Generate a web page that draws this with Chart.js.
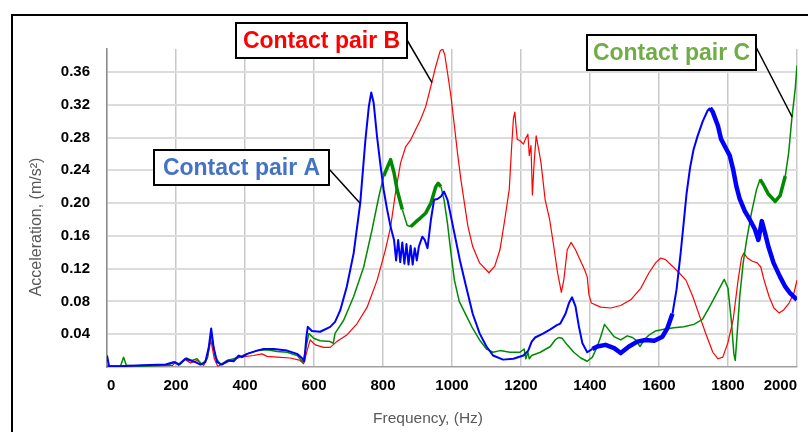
<!DOCTYPE html>
<html>
<head>
<meta charset="utf-8">
<script src="https://cdn.jsdelivr.net/npm/chart.js@4.4.1/dist/chart.umd.min.js"></script>
<style>
  html, body { margin: 0; padding: 0; background: #fff; }
  #wrap { position: relative; width: 808px; height: 432px; }
</style>
</head>
<body>
<div id="wrap"><canvas id="accChart"></canvas></div>
<script>
// values: frequency (Hz) and acceleration (m/s^2)
const freqA = [0, 6, 40, 100, 170, 195, 208, 227, 242, 256, 271, 285, 295, 302, 309, 319, 333, 353, 367, 382, 391, 406, 435, 454, 483, 522, 551, 565, 572, 578, 582, 594, 618, 647, 661, 676, 695, 715, 734, 749, 759, 766, 773, 783, 793, 802, 812, 822, 832, 838, 844, 850, 856, 862, 868, 874, 880, 886, 892, 898, 904, 914, 921, 929, 939, 948, 958, 968, 977, 987, 1007, 1023, 1041, 1060, 1080, 1100, 1119, 1148, 1178, 1207, 1221, 1231, 1241, 1265, 1285, 1304, 1314, 1329, 1339, 1348, 1358, 1368, 1378, 1392, 1407, 1421, 1445, 1470, 1489, 1513, 1537, 1561, 1586, 1610, 1624, 1639, 1651, 1663, 1672, 1680, 1690, 1700, 1712, 1727, 1741, 1748, 1756, 1771, 1780, 1795, 1805, 1815, 1824, 1834, 1849, 1863, 1878, 1888, 1898, 1907, 1917, 1932, 1951, 1966, 1980, 1995, 2000];
const accA = [0.014, 0.001, 0.001, 0.002, 0.003, 0.006, 0.003, 0.010, 0.008, 0.006, 0.003, 0.006, 0.024, 0.047, 0.024, 0.006, 0.003, 0.008, 0.007, 0.014, 0.012, 0.016, 0.020, 0.022, 0.022, 0.020, 0.016, 0.011, 0.007, 0.037, 0.049, 0.044, 0.043, 0.049, 0.055, 0.069, 0.098, 0.139, 0.200, 0.277, 0.318, 0.335, 0.322, 0.280, 0.245, 0.216, 0.192, 0.171, 0.155, 0.130, 0.155, 0.128, 0.152, 0.126, 0.150, 0.125, 0.148, 0.125, 0.145, 0.130, 0.147, 0.159, 0.155, 0.145, 0.180, 0.204, 0.205, 0.208, 0.214, 0.204, 0.163, 0.130, 0.098, 0.065, 0.041, 0.025, 0.014, 0.009, 0.010, 0.014, 0.020, 0.031, 0.036, 0.041, 0.046, 0.051, 0.053, 0.065, 0.078, 0.085, 0.074, 0.049, 0.029, 0.018, 0.022, 0.025, 0.027, 0.023, 0.017, 0.025, 0.031, 0.033, 0.032, 0.037, 0.047, 0.065, 0.095, 0.140, 0.178, 0.212, 0.243, 0.265, 0.282, 0.300, 0.313, 0.316, 0.311, 0.294, 0.278, 0.266, 0.258, 0.241, 0.221, 0.205, 0.190, 0.180, 0.168, 0.155, 0.178, 0.164, 0.147, 0.127, 0.110, 0.098, 0.090, 0.084, 0.082];

const freqB = [0, 190, 198, 208, 227, 242, 261, 280, 292, 301, 311, 321, 348, 386, 425, 449, 464, 493, 531, 560, 570, 580, 589, 604, 628, 647, 666, 695, 725, 754, 783, 807, 822, 836, 851, 866, 880, 895, 909, 924, 939, 953, 966, 973, 979, 987, 997, 1007, 1016, 1026, 1036, 1046, 1060, 1080, 1107, 1124, 1139, 1153, 1166, 1173, 1178, 1182, 1189, 1197, 1207, 1215, 1220, 1224, 1229, 1233, 1238, 1244, 1251, 1258, 1270, 1283, 1295, 1306, 1317, 1324, 1334, 1345, 1358, 1373, 1384, 1392, 1397, 1404, 1431, 1460, 1489, 1518, 1547, 1571, 1590, 1605, 1619, 1639, 1658, 1678, 1698, 1717, 1737, 1756, 1771, 1785, 1800, 1815, 1829, 1839, 1846, 1856, 1871, 1885, 1895, 1904, 1919, 1933, 1948, 1962, 1977, 1991, 2000];
const accB = [0.001, 0.002, 0.006, 0.002, 0.009, 0.005, 0.008, 0.002, 0.012, 0.033, 0.010, 0.001, 0.006, 0.012, 0.014, 0.016, 0.013, 0.012, 0.011, 0.008, 0.004, 0.020, 0.033, 0.027, 0.024, 0.024, 0.031, 0.039, 0.053, 0.073, 0.106, 0.143, 0.171, 0.212, 0.249, 0.269, 0.277, 0.290, 0.302, 0.318, 0.343, 0.367, 0.386, 0.388, 0.381, 0.359, 0.330, 0.294, 0.261, 0.228, 0.200, 0.172, 0.147, 0.127, 0.115, 0.123, 0.143, 0.180, 0.217, 0.270, 0.303, 0.311, 0.278, 0.276, 0.272, 0.280, 0.284, 0.258, 0.270, 0.210, 0.249, 0.282, 0.266, 0.249, 0.204, 0.180, 0.147, 0.115, 0.091, 0.106, 0.143, 0.152, 0.143, 0.129, 0.119, 0.110, 0.088, 0.078, 0.073, 0.072, 0.075, 0.082, 0.096, 0.115, 0.127, 0.133, 0.131, 0.123, 0.115, 0.106, 0.086, 0.063, 0.039, 0.018, 0.010, 0.012, 0.030, 0.058, 0.105, 0.133, 0.139, 0.133, 0.129, 0.127, 0.122, 0.107, 0.086, 0.072, 0.066, 0.070, 0.078, 0.090, 0.106];

const freqC = [0, 39, 48, 56, 97, 174, 198, 212, 230, 246, 261, 275, 290, 302, 314, 329, 348, 367, 386, 406, 435, 464, 493, 522, 551, 568, 575, 585, 599, 618, 647, 656, 661, 686, 715, 744, 768, 788, 802, 814, 822, 832, 841, 856, 870, 880, 895, 909, 924, 939, 953, 960, 968, 977, 987, 997, 1007, 1021, 1041, 1060, 1080, 1100, 1119, 1139, 1168, 1197, 1209, 1214, 1220, 1224, 1231, 1256, 1285, 1299, 1309, 1319, 1334, 1353, 1373, 1392, 1407, 1421, 1431, 1442, 1455, 1470, 1489, 1508, 1523, 1532, 1545, 1557, 1571, 1590, 1614, 1643, 1672, 1701, 1726, 1750, 1774, 1789, 1800, 1810, 1817, 1821, 1826, 1834, 1844, 1854, 1868, 1883, 1893, 1902, 1917, 1937, 1951, 1966, 1976, 1985, 1995, 2000];
const accC = [0.001, 0.001, 0.012, 0.002, 0.001, 0.002, 0.006, 0.003, 0.011, 0.008, 0.010, 0.003, 0.010, 0.041, 0.012, 0.003, 0.008, 0.010, 0.013, 0.016, 0.020, 0.021, 0.019, 0.018, 0.014, 0.006, 0.020, 0.041, 0.035, 0.032, 0.031, 0.029, 0.041, 0.057, 0.086, 0.122, 0.167, 0.208, 0.233, 0.245, 0.253, 0.237, 0.216, 0.192, 0.173, 0.171, 0.177, 0.182, 0.188, 0.200, 0.220, 0.224, 0.220, 0.204, 0.175, 0.139, 0.106, 0.080, 0.063, 0.047, 0.033, 0.022, 0.018, 0.020, 0.018, 0.018, 0.022, 0.010, 0.018, 0.010, 0.014, 0.018, 0.025, 0.033, 0.036, 0.035, 0.027, 0.018, 0.011, 0.007, 0.012, 0.025, 0.037, 0.052, 0.045, 0.037, 0.033, 0.038, 0.036, 0.033, 0.025, 0.033, 0.039, 0.044, 0.046, 0.048, 0.049, 0.052, 0.058, 0.076, 0.095, 0.107, 0.096, 0.055, 0.016, 0.008, 0.037, 0.086, 0.127, 0.155, 0.188, 0.217, 0.229, 0.223, 0.211, 0.202, 0.209, 0.233, 0.262, 0.303, 0.340, 0.368];

const xTicks = [0, 200, 400, 600, 800, 1000, 1200, 1400, 1600, 1800, 2000];
const yTicks = [0.04, 0.08, 0.12, 0.16, 0.20, 0.24, 0.28, 0.32, 0.36];
const yMax = 0.388;

// frequency ranges where the measured trace is noisy (drawn as a wider band)
const noisyA = [[1400, 1630], [1745, 2000]];
const noisyC = [[800, 845], [880, 960], [1890, 1965]];

const toPoints = (fs, vs) => fs.map((f, i) => ({ x: f, y: vs[i] }));
const inRange = (ranges, x) => ranges.some(r => x >= r[0] && x <= r[1]);

// callout boxes (pixels) with a leader line to a point on the curve (data units)
const callouts = [
  { text: "Contact pair A", color: "#4472c4", box: [154, 150, 329, 185], from: [329, 169], to: [733, 0.200] },
  { text: "Contact pair B", color: "#ff0000", box: [236, 23, 407, 58], from: [407, 40], to: [942, 0.347] },
  { text: "Contact pair C", color: "#70ad47", box: [587, 35, 756, 70], from: [756, 47], to: [1986, 0.305] }
];

const framePlugin = {
  id: "frame",
  beforeDraw(chart) {
    const c = chart.ctx;
    c.save();
    c.fillStyle = "#fff";
    c.fillRect(0, 0, chart.width, chart.height);
    c.restore();
  },
  afterDraw(chart) {
    const c = chart.ctx;
    const { x, y } = chart.scales;
    c.save();
    // outer border of the figure
    c.strokeStyle = "#000";
    c.lineWidth = 2;
    c.beginPath();
    c.moveTo(12, 432);
    c.lineTo(12, 15);
    c.lineTo(808, 15);
    c.stroke();

    // axis titles
    c.fillStyle = "#595959";
    c.textAlign = "center";
    c.textBaseline = "middle";
    c.font = '15.5px "Liberation Sans", sans-serif';
    c.fillText("Frequency, (Hz)", 428, 419);
    c.font = '16px "Liberation Sans", sans-serif';
    c.translate(37, 227);
    c.rotate(-Math.PI / 2);
    c.fillText("Acceleration, (m/s\u00b2)", 0, 0);
    c.restore();

    // callouts
    c.save();
    callouts.forEach(cl => {
      const [x0, y0, x1, y1] = cl.box;
      c.strokeStyle = "#000";
      c.lineWidth = 1.5;
      c.beginPath();
      c.moveTo(cl.from[0], cl.from[1]);
      c.lineTo(x.getPixelForValue(cl.to[0]), y.getPixelForValue(cl.to[1]));
      c.stroke();
      c.fillStyle = "#fff";
      c.fillRect(x0, y0, x1 - x0, y1 - y0);
      c.lineWidth = 2;
      c.strokeRect(x0, y0, x1 - x0, y1 - y0);
      c.fillStyle = cl.color;
      c.font = 'bold 23px "Liberation Sans", sans-serif';
      c.textAlign = "center";
      c.textBaseline = "middle";
      c.fillText(cl.text, (x0 + x1) / 2, (y0 + y1) / 2 + 1);
    });
    c.restore();
  }
};

const ctx = document.getElementById("accChart").getContext("2d");
const accChart = new Chart(ctx, {
  type: "line",
  data: {
    datasets: [
      {
        label: "Contact pair A",
        data: toPoints(freqA, accA),
        borderColor: "#0000ff",
        borderWidth: 2,
        segment: { borderWidth: c => inRange(noisyA, c.p0.parsed.x) ? 4.5 : undefined }
      },
      {
        label: "Contact pair C",
        data: toPoints(freqC, accC),
        borderColor: "#008a00",
        borderWidth: 1.5,
        segment: { borderWidth: c => inRange(noisyC, c.p0.parsed.x) ? 3.5 : undefined }
      },
      {
        label: "Contact pair B",
        data: toPoints(freqB, accB),
        borderColor: "#ff0000",
        borderWidth: 1.2
      }
    ]
  },
  options: {
    responsive: true,
    maintainAspectRatio: false,
    animation: false,
    parsing: false,
    elements: { point: { radius: 0 }, line: { tension: 0, borderJoinStyle: "round" } },
    layout: { padding: { top: 49, right: 11, left: 0, bottom: 0 } },
    plugins: { legend: { display: false }, tooltip: { enabled: false } },
    scales: {
      x: {
        type: "linear",
        min: 0,
        max: 2000,
        afterBuildTicks: s => { s.ticks = xTicks.map(v => ({ value: v })); },
        afterFit: s => { s.height = 65; s.paddingLeft = 0; s.paddingRight = 0; },
        grid: { color: "#c8c8c8", lineWidth: 1.5, drawTicks: false },
        border: { color: "#a0a0a0", width: 1.5 },
        ticks: {
          color: "#000",
          align: "inner",
          padding: 10,
          maxRotation: 0,
          callback: v => String(v),
          font: { family: "Liberation Sans", size: 15, weight: "bold" }
        }
      },
      y: {
        min: 0,
        max: yMax,
        afterBuildTicks: s => { s.ticks = yTicks.map(v => ({ value: v })); },
        afterFit: s => { s.width = 107; },
        grid: { color: "#dcdcdc", lineWidth: 2, drawTicks: false },
        border: { color: "#8c8c8c", width: 1.5 },
        ticks: {
          color: "#000",
          padding: 17,
          callback: v => v.toFixed(2),
          font: { family: "Liberation Sans", size: 15, weight: "bold" }
        }
      }
    }
  },
  plugins: [framePlugin]
});
</script>
</body>
</html>
